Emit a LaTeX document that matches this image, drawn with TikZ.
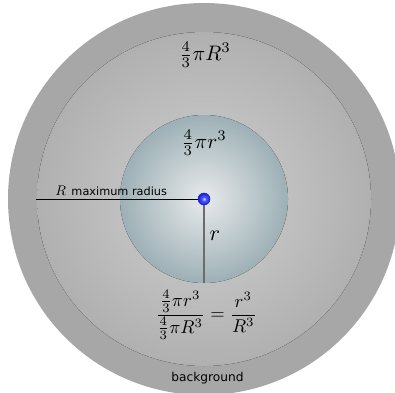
\documentclass[tikz,border=0pt]{standalone}
\usepackage{fontspec}
\setsansfont{DejaVu Sans}
\definecolor{ringgray}{HTML}{A7A7A7}
\definecolor{discin}{HTML}{D0D0D0}
\definecolor{discout}{HTML}{B0B0B0}
\definecolor{spin}{HTML}{E8EAEB}
\definecolor{spout}{HTML}{9DB0B6}
\definecolor{dotin}{HTML}{D8DEFF}
\definecolor{dotmid}{HTML}{4A55FF}
\definecolor{dotout}{HTML}{1A22D8}
\pgfdeclareradialshading{discshade}{\pgfpoint{0bp}{0bp}}{color(0bp)=(discin); color(25bp)=(discout); color(50bp)=(discout)}
\pgfdeclareradialshading{sphereshade}{\pgfpoint{0bp}{0bp}}{color(0bp)=(spin); color(25bp)=(spout); color(50bp)=(spout)}
\pgfdeclareradialshading{dotshade}{\pgfpoint{0bp}{0bp}}{color(0bp)=(dotin); color(9bp)=(dotmid); color(25bp)=(dotout); color(50bp)=(dotout)}
\tikzset{
  mathlbl/.style={inner sep=0pt, font=\fontsize{10}{12}\selectfont, scale=2.1, transform shape},
  sanslbl/.style={inner sep=0pt, font=\sffamily\fontsize{11.3}{13}\selectfont},
}
\begin{document}
\begin{tikzpicture}[x=1pt,y=1pt]
\useasboundingbox (0,0) rectangle (395,392);
\clip (0,0) rectangle (395,392);
\coordinate (c) at (204,193);
\fill[ringgray] (c) circle[radius=196];
\fill[shading=discshade] (c) circle[radius=167];
\fill[shading=sphereshade] (c) circle[radius=84];
\coordinate (left) at (36,193);
\coordinate (bottom) at (204,109);
\draw[black, line width=0.9pt] (left) -- (c);
\draw[gray!85!black, line width=1.6pt] (c) -- (bottom);
\node[circle, minimum size=12pt, inner sep=0pt, shading=dotshade, draw=dotout!80!black, line width=0.5pt] (dot) at (c) {};
\node[mathlbl] (bigvol) at (205,337) {$\frac{4}{3}\pi R^3$};
\node[mathlbl] (smallvol) at (204,249) {$\frac{4}{3}\pi r^3$};
\node[mathlbl, scale=1.05] (rlbl) at (215,156) {$r$};
\node[inner sep=0pt, font=\fontsize{10}{12}\selectfont, scale=1.4, transform shape, anchor=base west] (Rlbl) at (55,197) {$R$};
\node[sanslbl, anchor=base west] (maxr) at (Rlbl.base east) {\hspace{5pt}maximum radius};
\node[mathlbl, scale=0.88] (ratio) at (206,77) {$\displaystyle\frac{\frac{4}{3}\pi r^3}{\frac{4}{3}\pi R^3}=\frac{r^3}{R^3}$};
\node[sanslbl, font=\sffamily\fontsize{12.2}{14}\selectfont] (bg) at (207.5,14) {background};
\end{tikzpicture}
\end{document}
